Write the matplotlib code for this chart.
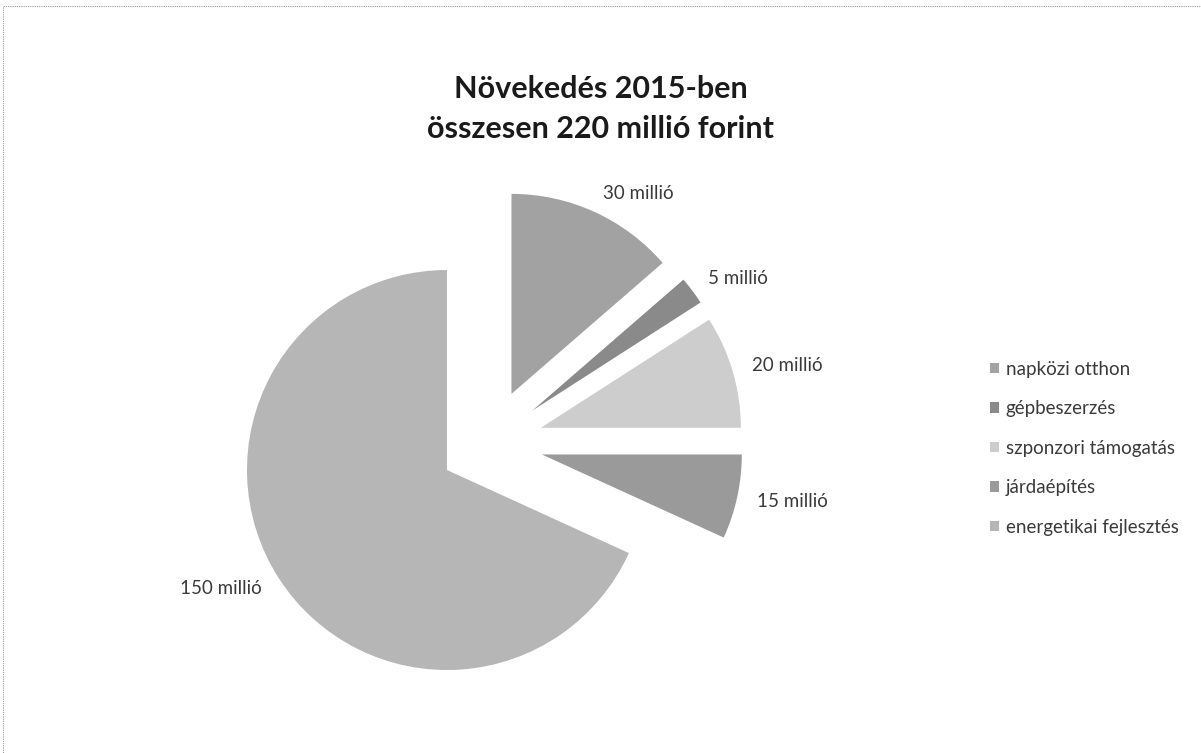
import matplotlib
matplotlib.use("Agg")
import matplotlib.pyplot as plt
from matplotlib.patches import Rectangle

# data
categories = ["napközi otthon", "gépbeszerzés", "szponzori támogatás",
              "járdaépítés", "energetikai fejlesztés"]
values = [30, 5, 20, 15, 150]
value_labels = ["30 millió", "5 millió", "20 millió", "15 millió", "150 millió"]
title_text = "Növekedés 2015-ben\nösszesen 220 millió forint"

colors = ["#a2a2a2", "#8a8a8a", "#cdcdcd", "#9a9a9a", "#b6b6b6"]
explode = [0.27, 0.27, 0.27, 0.27, 0.25]

plt.rcParams['font.family'] = ['Lato', 'DejaVu Sans']

fig = plt.figure(figsize=(12.01, 7.53), dpi=100)

# dashed frame like the scanned chart border
fig.patches.append(Rectangle((0.0025, -0.05), 1.1, 1.042, transform=fig.transFigure,
                             fill=False, edgecolor="#9a9a9a", linewidth=0.8,
                             linestyle=(0, (1, 1))))

# pie axes: radius 1 = 200 px, centre near (489, 443)
ax = fig.add_axes([0.1574, 0.0133, 0.4996, 0.7968])
wedges, texts = ax.pie(values, labels=value_labels, colors=colors, explode=explode,
                       startangle=90, counterclock=False, radius=1.0,
                       labeldistance=1.1, textprops=dict(fontsize=13.5, color="#3a3a3a"))
ax.set_xlim(-1.5, 1.5)
ax.set_ylim(-1.5, 1.5)
ax.set_aspect("equal")
ax.axis("off")

fig.text(0.5, 0.855, title_text, ha="center", va="center", fontsize=22,
         fontweight="bold", color="#1a1a1a", linespacing=1.5)

fig.legend(wedges, categories, loc="center left", bbox_to_anchor=(0.81, 0.405),
           frameon=False, fontsize=13.5, handlelength=0.5, handleheight=0.5,
           handletextpad=0.35, labelspacing=1.2, labelcolor="#3a3a3a")

fig.savefig("out.png", dpi=100, facecolor="white")
